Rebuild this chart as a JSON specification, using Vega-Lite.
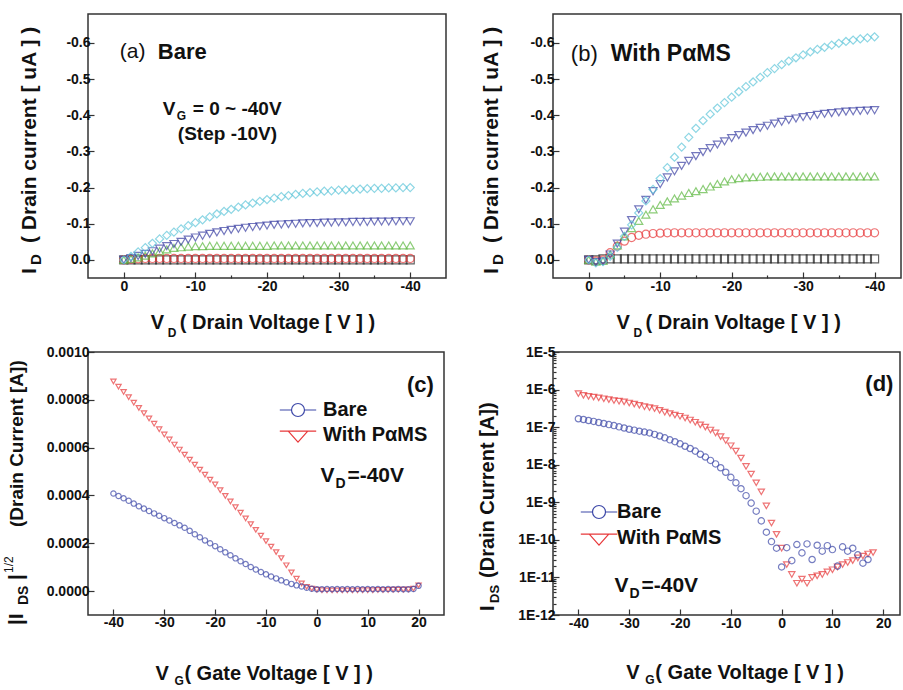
{
"$schema":"https://vega.github.io/schema/vega-lite/v6.json",
"padding":{"left":2,"top":13,"right":0,"bottom":0},
"bounds":"flush",
"columns":2,
"spacing":{"row":74,"column":107},
"resolve":{"scale":{"color":"independent","shape":"independent"},"legend":{"color":"independent","shape":"independent"}},
"config":{
 "view":{"stroke":"#333333","strokeWidth":1.5},
 "axis":{"domain":false,"grid":false,"tickColor":"#333333","tickWidth":1.2,"labelFont":"Liberation Sans","labelFontSize":14,"labelFontWeight":"bold","labelColor":"#111111","title":null,"labelOverlap":false,"labelFlush":false,"labelBound":false},
 "text":{"font":"Liberation Sans","fontSize":20,"fontWeight":"bold","align":"left","baseline":"alphabetic","color":"#111111"},
 "point":{"filled":false,"strokeWidth":1.2}
},
"datasets":{
"iv":[
{"p":"a","g":"0","v":0,"i":0},{"p":"a","g":"0","v":-1,"i":0},{"p":"a","g":"0","v":-2,"i":0},{"p":"a","g":"0","v":-3,"i":0},{"p":"a","g":"0","v":-4,"i":0},{"p":"a","g":"0","v":-5,"i":0},{"p":"a","g":"0","v":-6,"i":0},{"p":"a","g":"0","v":-7,"i":0},{"p":"a","g":"0","v":-8,"i":0},{"p":"a","g":"0","v":-9,"i":0},{"p":"a","g":"0","v":-10,"i":0},{"p":"a","g":"0","v":-11,"i":0},{"p":"a","g":"0","v":-12,"i":0},{"p":"a","g":"0","v":-13,"i":0},{"p":"a","g":"0","v":-14,"i":0},{"p":"a","g":"0","v":-15,"i":0},{"p":"a","g":"0","v":-16,"i":0},{"p":"a","g":"0","v":-17,"i":0},{"p":"a","g":"0","v":-18,"i":0},{"p":"a","g":"0","v":-19,"i":0},{"p":"a","g":"0","v":-20,"i":0},{"p":"a","g":"0","v":-21,"i":0},{"p":"a","g":"0","v":-22,"i":0},{"p":"a","g":"0","v":-23,"i":0},{"p":"a","g":"0","v":-24,"i":0},{"p":"a","g":"0","v":-25,"i":0},{"p":"a","g":"0","v":-26,"i":0},{"p":"a","g":"0","v":-27,"i":0},{"p":"a","g":"0","v":-28,"i":0},{"p":"a","g":"0","v":-29,"i":0},{"p":"a","g":"0","v":-30,"i":0},{"p":"a","g":"0","v":-31,"i":0},{"p":"a","g":"0","v":-32,"i":0},{"p":"a","g":"0","v":-33,"i":0},{"p":"a","g":"0","v":-34,"i":0},{"p":"a","g":"0","v":-35,"i":0},{"p":"a","g":"0","v":-36,"i":0},{"p":"a","g":"0","v":-37,"i":0},{"p":"a","g":"0","v":-38,"i":0},{"p":"a","g":"0","v":-39,"i":0},{"p":"a","g":"0","v":-40,"i":0},
{"p":"a","g":"-10","v":0,"i":0},{"p":"a","g":"-10","v":-1,"i":-0.002},{"p":"a","g":"-10","v":-2,"i":-0.003},{"p":"a","g":"-10","v":-3,"i":-0.004},{"p":"a","g":"-10","v":-4,"i":-0.004},{"p":"a","g":"-10","v":-5,"i":-0.004},{"p":"a","g":"-10","v":-6,"i":-0.004},{"p":"a","g":"-10","v":-7,"i":-0.004},{"p":"a","g":"-10","v":-8,"i":-0.004},{"p":"a","g":"-10","v":-9,"i":-0.004},{"p":"a","g":"-10","v":-10,"i":-0.004},{"p":"a","g":"-10","v":-11,"i":-0.004},{"p":"a","g":"-10","v":-12,"i":-0.004},{"p":"a","g":"-10","v":-13,"i":-0.004},{"p":"a","g":"-10","v":-14,"i":-0.004},{"p":"a","g":"-10","v":-15,"i":-0.004},{"p":"a","g":"-10","v":-16,"i":-0.004},{"p":"a","g":"-10","v":-17,"i":-0.004},{"p":"a","g":"-10","v":-18,"i":-0.004},{"p":"a","g":"-10","v":-19,"i":-0.004},{"p":"a","g":"-10","v":-20,"i":-0.004},{"p":"a","g":"-10","v":-21,"i":-0.004},{"p":"a","g":"-10","v":-22,"i":-0.004},{"p":"a","g":"-10","v":-23,"i":-0.004},{"p":"a","g":"-10","v":-24,"i":-0.004},{"p":"a","g":"-10","v":-25,"i":-0.004},{"p":"a","g":"-10","v":-26,"i":-0.004},{"p":"a","g":"-10","v":-27,"i":-0.004},{"p":"a","g":"-10","v":-28,"i":-0.004},{"p":"a","g":"-10","v":-29,"i":-0.004},{"p":"a","g":"-10","v":-30,"i":-0.004},{"p":"a","g":"-10","v":-31,"i":-0.004},{"p":"a","g":"-10","v":-32,"i":-0.004},{"p":"a","g":"-10","v":-33,"i":-0.004},{"p":"a","g":"-10","v":-34,"i":-0.004},{"p":"a","g":"-10","v":-35,"i":-0.004},{"p":"a","g":"-10","v":-36,"i":-0.004},{"p":"a","g":"-10","v":-37,"i":-0.004},{"p":"a","g":"-10","v":-38,"i":-0.004},{"p":"a","g":"-10","v":-39,"i":-0.004},{"p":"a","g":"-10","v":-40,"i":-0.004},
{"p":"a","g":"-20","v":0,"i":0},{"p":"a","g":"-20","v":-1,"i":-0.003},{"p":"a","g":"-20","v":-2,"i":-0.007},{"p":"a","g":"-20","v":-3,"i":-0.012},{"p":"a","g":"-20","v":-4,"i":-0.018},{"p":"a","g":"-20","v":-5,"i":-0.024},{"p":"a","g":"-20","v":-6,"i":-0.029},{"p":"a","g":"-20","v":-7,"i":-0.033},{"p":"a","g":"-20","v":-8,"i":-0.035},{"p":"a","g":"-20","v":-9,"i":-0.037},{"p":"a","g":"-20","v":-10,"i":-0.038},{"p":"a","g":"-20","v":-11,"i":-0.038},{"p":"a","g":"-20","v":-12,"i":-0.039},{"p":"a","g":"-20","v":-13,"i":-0.039},{"p":"a","g":"-20","v":-14,"i":-0.039},{"p":"a","g":"-20","v":-15,"i":-0.039},{"p":"a","g":"-20","v":-16,"i":-0.039},{"p":"a","g":"-20","v":-17,"i":-0.039},{"p":"a","g":"-20","v":-18,"i":-0.039},{"p":"a","g":"-20","v":-19,"i":-0.039},{"p":"a","g":"-20","v":-20,"i":-0.039},{"p":"a","g":"-20","v":-21,"i":-0.04},{"p":"a","g":"-20","v":-22,"i":-0.04},{"p":"a","g":"-20","v":-23,"i":-0.04},{"p":"a","g":"-20","v":-24,"i":-0.04},{"p":"a","g":"-20","v":-25,"i":-0.04},{"p":"a","g":"-20","v":-26,"i":-0.04},{"p":"a","g":"-20","v":-27,"i":-0.04},{"p":"a","g":"-20","v":-28,"i":-0.04},{"p":"a","g":"-20","v":-29,"i":-0.04},{"p":"a","g":"-20","v":-30,"i":-0.04},{"p":"a","g":"-20","v":-31,"i":-0.04},{"p":"a","g":"-20","v":-32,"i":-0.04},{"p":"a","g":"-20","v":-33,"i":-0.04},{"p":"a","g":"-20","v":-34,"i":-0.04},{"p":"a","g":"-20","v":-35,"i":-0.04},{"p":"a","g":"-20","v":-36,"i":-0.04},{"p":"a","g":"-20","v":-37,"i":-0.04},{"p":"a","g":"-20","v":-38,"i":-0.04},{"p":"a","g":"-20","v":-39,"i":-0.04},{"p":"a","g":"-20","v":-40,"i":-0.04},
{"p":"a","g":"-30","v":0,"i":0},{"p":"a","g":"-30","v":-1,"i":-0.005},{"p":"a","g":"-30","v":-2,"i":-0.011},{"p":"a","g":"-30","v":-3,"i":-0.017},{"p":"a","g":"-30","v":-4,"i":-0.024},{"p":"a","g":"-30","v":-5,"i":-0.031},{"p":"a","g":"-30","v":-6,"i":-0.038},{"p":"a","g":"-30","v":-7,"i":-0.044},{"p":"a","g":"-30","v":-8,"i":-0.05},{"p":"a","g":"-30","v":-9,"i":-0.056},{"p":"a","g":"-30","v":-10,"i":-0.062},{"p":"a","g":"-30","v":-11,"i":-0.067},{"p":"a","g":"-30","v":-12,"i":-0.072},{"p":"a","g":"-30","v":-13,"i":-0.076},{"p":"a","g":"-30","v":-14,"i":-0.08},{"p":"a","g":"-30","v":-15,"i":-0.083},{"p":"a","g":"-30","v":-16,"i":-0.086},{"p":"a","g":"-30","v":-17,"i":-0.089},{"p":"a","g":"-30","v":-18,"i":-0.091},{"p":"a","g":"-30","v":-19,"i":-0.093},{"p":"a","g":"-30","v":-20,"i":-0.095},{"p":"a","g":"-30","v":-21,"i":-0.097},{"p":"a","g":"-30","v":-22,"i":-0.098},{"p":"a","g":"-30","v":-23,"i":-0.099},{"p":"a","g":"-30","v":-24,"i":-0.1},{"p":"a","g":"-30","v":-25,"i":-0.101},{"p":"a","g":"-30","v":-26,"i":-0.102},{"p":"a","g":"-30","v":-27,"i":-0.102},{"p":"a","g":"-30","v":-28,"i":-0.103},{"p":"a","g":"-30","v":-29,"i":-0.103},{"p":"a","g":"-30","v":-30,"i":-0.104},{"p":"a","g":"-30","v":-31,"i":-0.104},{"p":"a","g":"-30","v":-32,"i":-0.105},{"p":"a","g":"-30","v":-33,"i":-0.105},{"p":"a","g":"-30","v":-34,"i":-0.105},{"p":"a","g":"-30","v":-35,"i":-0.106},{"p":"a","g":"-30","v":-36,"i":-0.106},{"p":"a","g":"-30","v":-37,"i":-0.106},{"p":"a","g":"-30","v":-38,"i":-0.107},{"p":"a","g":"-30","v":-39,"i":-0.107},{"p":"a","g":"-30","v":-40,"i":-0.107},
{"p":"a","g":"-40","v":0,"i":0},{"p":"a","g":"-40","v":-1,"i":-0.01},{"p":"a","g":"-40","v":-2,"i":-0.022},{"p":"a","g":"-40","v":-3,"i":-0.034},{"p":"a","g":"-40","v":-4,"i":-0.046},{"p":"a","g":"-40","v":-5,"i":-0.058},{"p":"a","g":"-40","v":-6,"i":-0.068},{"p":"a","g":"-40","v":-7,"i":-0.077},{"p":"a","g":"-40","v":-8,"i":-0.086},{"p":"a","g":"-40","v":-9,"i":-0.095},{"p":"a","g":"-40","v":-10,"i":-0.103},{"p":"a","g":"-40","v":-11,"i":-0.111},{"p":"a","g":"-40","v":-12,"i":-0.119},{"p":"a","g":"-40","v":-13,"i":-0.127},{"p":"a","g":"-40","v":-14,"i":-0.134},{"p":"a","g":"-40","v":-15,"i":-0.14},{"p":"a","g":"-40","v":-16,"i":-0.146},{"p":"a","g":"-40","v":-17,"i":-0.152},{"p":"a","g":"-40","v":-18,"i":-0.157},{"p":"a","g":"-40","v":-19,"i":-0.162},{"p":"a","g":"-40","v":-20,"i":-0.167},{"p":"a","g":"-40","v":-21,"i":-0.171},{"p":"a","g":"-40","v":-22,"i":-0.175},{"p":"a","g":"-40","v":-23,"i":-0.178},{"p":"a","g":"-40","v":-24,"i":-0.181},{"p":"a","g":"-40","v":-25,"i":-0.184},{"p":"a","g":"-40","v":-26,"i":-0.186},{"p":"a","g":"-40","v":-27,"i":-0.188},{"p":"a","g":"-40","v":-28,"i":-0.19},{"p":"a","g":"-40","v":-29,"i":-0.191},{"p":"a","g":"-40","v":-30,"i":-0.193},{"p":"a","g":"-40","v":-31,"i":-0.194},{"p":"a","g":"-40","v":-32,"i":-0.195},{"p":"a","g":"-40","v":-33,"i":-0.196},{"p":"a","g":"-40","v":-34,"i":-0.197},{"p":"a","g":"-40","v":-35,"i":-0.198},{"p":"a","g":"-40","v":-36,"i":-0.198},{"p":"a","g":"-40","v":-37,"i":-0.199},{"p":"a","g":"-40","v":-38,"i":-0.199},{"p":"a","g":"-40","v":-39,"i":-0.2},{"p":"a","g":"-40","v":-40,"i":-0.2},
{"p":"b","g":"0","v":0,"i":0},{"p":"b","g":"0","v":-1,"i":0},{"p":"b","g":"0","v":-2,"i":-0.003},{"p":"b","g":"0","v":-3,"i":-0.003},{"p":"b","g":"0","v":-4,"i":-0.003},{"p":"b","g":"0","v":-5,"i":-0.003},{"p":"b","g":"0","v":-6,"i":-0.003},{"p":"b","g":"0","v":-7,"i":-0.003},{"p":"b","g":"0","v":-8,"i":-0.003},{"p":"b","g":"0","v":-9,"i":-0.003},{"p":"b","g":"0","v":-10,"i":-0.003},{"p":"b","g":"0","v":-11,"i":-0.003},{"p":"b","g":"0","v":-12,"i":-0.003},{"p":"b","g":"0","v":-13,"i":-0.003},{"p":"b","g":"0","v":-14,"i":-0.003},{"p":"b","g":"0","v":-15,"i":-0.003},{"p":"b","g":"0","v":-16,"i":-0.003},{"p":"b","g":"0","v":-17,"i":-0.003},{"p":"b","g":"0","v":-18,"i":-0.003},{"p":"b","g":"0","v":-19,"i":-0.003},{"p":"b","g":"0","v":-20,"i":-0.003},{"p":"b","g":"0","v":-21,"i":-0.003},{"p":"b","g":"0","v":-22,"i":-0.003},{"p":"b","g":"0","v":-23,"i":-0.003},{"p":"b","g":"0","v":-24,"i":-0.003},{"p":"b","g":"0","v":-25,"i":-0.003},{"p":"b","g":"0","v":-26,"i":-0.003},{"p":"b","g":"0","v":-27,"i":-0.003},{"p":"b","g":"0","v":-28,"i":-0.003},{"p":"b","g":"0","v":-29,"i":-0.003},{"p":"b","g":"0","v":-30,"i":-0.003},{"p":"b","g":"0","v":-31,"i":-0.003},{"p":"b","g":"0","v":-32,"i":-0.003},{"p":"b","g":"0","v":-33,"i":-0.003},{"p":"b","g":"0","v":-34,"i":-0.003},{"p":"b","g":"0","v":-35,"i":-0.003},{"p":"b","g":"0","v":-36,"i":-0.003},{"p":"b","g":"0","v":-37,"i":-0.003},{"p":"b","g":"0","v":-38,"i":-0.003},{"p":"b","g":"0","v":-39,"i":-0.003},{"p":"b","g":"0","v":-40,"i":-0.003},
{"p":"b","g":"-10","v":0,"i":0},{"p":"b","g":"-10","v":-1,"i":0.003},{"p":"b","g":"-10","v":-2,"i":0},{"p":"b","g":"-10","v":-3,"i":-0.02},{"p":"b","g":"-10","v":-4,"i":-0.038},{"p":"b","g":"-10","v":-5,"i":-0.052},{"p":"b","g":"-10","v":-6,"i":-0.062},{"p":"b","g":"-10","v":-7,"i":-0.068},{"p":"b","g":"-10","v":-8,"i":-0.071},{"p":"b","g":"-10","v":-9,"i":-0.073},{"p":"b","g":"-10","v":-10,"i":-0.074},{"p":"b","g":"-10","v":-11,"i":-0.075},{"p":"b","g":"-10","v":-12,"i":-0.075},{"p":"b","g":"-10","v":-13,"i":-0.075},{"p":"b","g":"-10","v":-14,"i":-0.075},{"p":"b","g":"-10","v":-15,"i":-0.075},{"p":"b","g":"-10","v":-16,"i":-0.075},{"p":"b","g":"-10","v":-17,"i":-0.075},{"p":"b","g":"-10","v":-18,"i":-0.075},{"p":"b","g":"-10","v":-19,"i":-0.075},{"p":"b","g":"-10","v":-20,"i":-0.075},{"p":"b","g":"-10","v":-21,"i":-0.075},{"p":"b","g":"-10","v":-22,"i":-0.075},{"p":"b","g":"-10","v":-23,"i":-0.075},{"p":"b","g":"-10","v":-24,"i":-0.075},{"p":"b","g":"-10","v":-25,"i":-0.075},{"p":"b","g":"-10","v":-26,"i":-0.075},{"p":"b","g":"-10","v":-27,"i":-0.075},{"p":"b","g":"-10","v":-28,"i":-0.075},{"p":"b","g":"-10","v":-29,"i":-0.075},{"p":"b","g":"-10","v":-30,"i":-0.075},{"p":"b","g":"-10","v":-31,"i":-0.075},{"p":"b","g":"-10","v":-32,"i":-0.075},{"p":"b","g":"-10","v":-33,"i":-0.075},{"p":"b","g":"-10","v":-34,"i":-0.075},{"p":"b","g":"-10","v":-35,"i":-0.075},{"p":"b","g":"-10","v":-36,"i":-0.075},{"p":"b","g":"-10","v":-37,"i":-0.075},{"p":"b","g":"-10","v":-38,"i":-0.075},{"p":"b","g":"-10","v":-39,"i":-0.075},{"p":"b","g":"-10","v":-40,"i":-0.075},
{"p":"b","g":"-20","v":0,"i":0},{"p":"b","g":"-20","v":-1,"i":0.005},{"p":"b","g":"-20","v":-2,"i":0.003},{"p":"b","g":"-20","v":-3,"i":-0.015},{"p":"b","g":"-20","v":-4,"i":-0.04},{"p":"b","g":"-20","v":-5,"i":-0.065},{"p":"b","g":"-20","v":-6,"i":-0.088},{"p":"b","g":"-20","v":-7,"i":-0.108},{"p":"b","g":"-20","v":-8,"i":-0.125},{"p":"b","g":"-20","v":-9,"i":-0.14},{"p":"b","g":"-20","v":-10,"i":-0.152},{"p":"b","g":"-20","v":-11,"i":-0.162},{"p":"b","g":"-20","v":-12,"i":-0.17},{"p":"b","g":"-20","v":-13,"i":-0.178},{"p":"b","g":"-20","v":-14,"i":-0.185},{"p":"b","g":"-20","v":-15,"i":-0.19},{"p":"b","g":"-20","v":-16,"i":-0.196},{"p":"b","g":"-20","v":-17,"i":-0.203},{"p":"b","g":"-20","v":-18,"i":-0.21},{"p":"b","g":"-20","v":-19,"i":-0.217},{"p":"b","g":"-20","v":-20,"i":-0.223},{"p":"b","g":"-20","v":-21,"i":-0.226},{"p":"b","g":"-20","v":-22,"i":-0.228},{"p":"b","g":"-20","v":-23,"i":-0.229},{"p":"b","g":"-20","v":-24,"i":-0.23},{"p":"b","g":"-20","v":-25,"i":-0.231},{"p":"b","g":"-20","v":-26,"i":-0.231},{"p":"b","g":"-20","v":-27,"i":-0.231},{"p":"b","g":"-20","v":-28,"i":-0.231},{"p":"b","g":"-20","v":-29,"i":-0.231},{"p":"b","g":"-20","v":-30,"i":-0.231},{"p":"b","g":"-20","v":-31,"i":-0.231},{"p":"b","g":"-20","v":-32,"i":-0.231},{"p":"b","g":"-20","v":-33,"i":-0.231},{"p":"b","g":"-20","v":-34,"i":-0.231},{"p":"b","g":"-20","v":-35,"i":-0.231},{"p":"b","g":"-20","v":-36,"i":-0.231},{"p":"b","g":"-20","v":-37,"i":-0.231},{"p":"b","g":"-20","v":-38,"i":-0.231},{"p":"b","g":"-20","v":-39,"i":-0.231},{"p":"b","g":"-20","v":-40,"i":-0.231},
{"p":"b","g":"-30","v":0,"i":0},{"p":"b","g":"-30","v":-1,"i":0.006},{"p":"b","g":"-30","v":-2,"i":0.004},{"p":"b","g":"-30","v":-3,"i":-0.015},{"p":"b","g":"-30","v":-4,"i":-0.045},{"p":"b","g":"-30","v":-5,"i":-0.078},{"p":"b","g":"-30","v":-6,"i":-0.11},{"p":"b","g":"-30","v":-7,"i":-0.14},{"p":"b","g":"-30","v":-8,"i":-0.166},{"p":"b","g":"-30","v":-9,"i":-0.19},{"p":"b","g":"-30","v":-10,"i":-0.21},{"p":"b","g":"-30","v":-11,"i":-0.228},{"p":"b","g":"-30","v":-12,"i":-0.245},{"p":"b","g":"-30","v":-13,"i":-0.26},{"p":"b","g":"-30","v":-14,"i":-0.274},{"p":"b","g":"-30","v":-15,"i":-0.287},{"p":"b","g":"-30","v":-16,"i":-0.298},{"p":"b","g":"-30","v":-17,"i":-0.309},{"p":"b","g":"-30","v":-18,"i":-0.319},{"p":"b","g":"-30","v":-19,"i":-0.328},{"p":"b","g":"-30","v":-20,"i":-0.337},{"p":"b","g":"-30","v":-21,"i":-0.345},{"p":"b","g":"-30","v":-22,"i":-0.352},{"p":"b","g":"-30","v":-23,"i":-0.359},{"p":"b","g":"-30","v":-24,"i":-0.365},{"p":"b","g":"-30","v":-25,"i":-0.371},{"p":"b","g":"-30","v":-26,"i":-0.377},{"p":"b","g":"-30","v":-27,"i":-0.382},{"p":"b","g":"-30","v":-28,"i":-0.387},{"p":"b","g":"-30","v":-29,"i":-0.391},{"p":"b","g":"-30","v":-30,"i":-0.395},{"p":"b","g":"-30","v":-31,"i":-0.398},{"p":"b","g":"-30","v":-32,"i":-0.401},{"p":"b","g":"-30","v":-33,"i":-0.404},{"p":"b","g":"-30","v":-34,"i":-0.406},{"p":"b","g":"-30","v":-35,"i":-0.408},{"p":"b","g":"-30","v":-36,"i":-0.41},{"p":"b","g":"-30","v":-37,"i":-0.411},{"p":"b","g":"-30","v":-38,"i":-0.412},{"p":"b","g":"-30","v":-39,"i":-0.413},{"p":"b","g":"-30","v":-40,"i":-0.414},
{"p":"b","g":"-40","v":0,"i":0},{"p":"b","g":"-40","v":-1,"i":0.008},{"p":"b","g":"-40","v":-2,"i":0.005},{"p":"b","g":"-40","v":-3,"i":-0.01},{"p":"b","g":"-40","v":-4,"i":-0.035},{"p":"b","g":"-40","v":-5,"i":-0.065},{"p":"b","g":"-40","v":-6,"i":-0.097},{"p":"b","g":"-40","v":-7,"i":-0.13},{"p":"b","g":"-40","v":-8,"i":-0.163},{"p":"b","g":"-40","v":-9,"i":-0.195},{"p":"b","g":"-40","v":-10,"i":-0.225},{"p":"b","g":"-40","v":-11,"i":-0.255},{"p":"b","g":"-40","v":-12,"i":-0.284},{"p":"b","g":"-40","v":-13,"i":-0.312},{"p":"b","g":"-40","v":-14,"i":-0.339},{"p":"b","g":"-40","v":-15,"i":-0.364},{"p":"b","g":"-40","v":-16,"i":-0.385},{"p":"b","g":"-40","v":-17,"i":-0.403},{"p":"b","g":"-40","v":-18,"i":-0.42},{"p":"b","g":"-40","v":-19,"i":-0.435},{"p":"b","g":"-40","v":-20,"i":-0.45},{"p":"b","g":"-40","v":-21,"i":-0.465},{"p":"b","g":"-40","v":-22,"i":-0.479},{"p":"b","g":"-40","v":-23,"i":-0.492},{"p":"b","g":"-40","v":-24,"i":-0.505},{"p":"b","g":"-40","v":-25,"i":-0.518},{"p":"b","g":"-40","v":-26,"i":-0.529},{"p":"b","g":"-40","v":-27,"i":-0.54},{"p":"b","g":"-40","v":-28,"i":-0.55},{"p":"b","g":"-40","v":-29,"i":-0.559},{"p":"b","g":"-40","v":-30,"i":-0.567},{"p":"b","g":"-40","v":-31,"i":-0.575},{"p":"b","g":"-40","v":-32,"i":-0.582},{"p":"b","g":"-40","v":-33,"i":-0.588},{"p":"b","g":"-40","v":-34,"i":-0.594},{"p":"b","g":"-40","v":-35,"i":-0.599},{"p":"b","g":"-40","v":-36,"i":-0.604},{"p":"b","g":"-40","v":-37,"i":-0.608},{"p":"b","g":"-40","v":-38,"i":-0.611},{"p":"b","g":"-40","v":-39,"i":-0.614},{"p":"b","g":"-40","v":-40,"i":-0.617}
],
"tc":[
{"s":"With PαMS","vg":-40,"sq":0.000877},{"s":"With PαMS","vg":-39,"sq":0.000855},{"s":"With PαMS","vg":-38,"sq":0.000833},{"s":"With PαMS","vg":-37,"sq":0.000811},{"s":"With PαMS","vg":-36,"sq":0.000788},{"s":"With PαMS","vg":-35,"sq":0.000766},{"s":"With PαMS","vg":-34,"sq":0.000744},{"s":"With PαMS","vg":-33,"sq":0.000722},{"s":"With PαMS","vg":-32,"sq":0.0007},{"s":"With PαMS","vg":-31,"sq":0.000677},{"s":"With PαMS","vg":-30,"sq":0.000655},{"s":"With PαMS","vg":-29,"sq":0.000634},{"s":"With PαMS","vg":-28,"sq":0.000613},{"s":"With PαMS","vg":-27,"sq":0.000592},{"s":"With PαMS","vg":-26,"sq":0.000571},{"s":"With PαMS","vg":-25,"sq":0.00055},{"s":"With PαMS","vg":-24,"sq":0.000529},{"s":"With PαMS","vg":-23,"sq":0.000508},{"s":"With PαMS","vg":-22,"sq":0.000487},{"s":"With PαMS","vg":-21,"sq":0.000466},{"s":"With PαMS","vg":-20,"sq":0.000446},{"s":"With PαMS","vg":-19,"sq":0.000422},{"s":"With PαMS","vg":-18,"sq":0.000398},{"s":"With PαMS","vg":-17,"sq":0.000375},{"s":"With PαMS","vg":-16,"sq":0.000351},{"s":"With PαMS","vg":-15,"sq":0.000328},{"s":"With PαMS","vg":-14,"sq":0.000304},{"s":"With PαMS","vg":-13,"sq":0.00028},{"s":"With PαMS","vg":-12,"sq":0.000256},{"s":"With PαMS","vg":-11,"sq":0.000232},{"s":"With PαMS","vg":-10,"sq":0.000209},{"s":"With PαMS","vg":-9,"sq":0.000186},{"s":"With PαMS","vg":-8,"sq":0.000163},{"s":"With PαMS","vg":-7,"sq":0.000138},{"s":"With PαMS","vg":-6,"sq":0.000108},{"s":"With PαMS","vg":-5,"sq":0.000078},{"s":"With PαMS","vg":-4,"sq":0.000052},{"s":"With PαMS","vg":-3,"sq":0.000032},{"s":"With PαMS","vg":-2,"sq":0.000018},{"s":"With PαMS","vg":-1,"sq":0.00001},{"s":"With PαMS","vg":0,"sq":0.000006},{"s":"With PαMS","vg":1,"sq":0.000004},{"s":"With PαMS","vg":2,"sq":0.000003},{"s":"With PαMS","vg":3,"sq":0.000003},{"s":"With PαMS","vg":4,"sq":0.000003},{"s":"With PαMS","vg":5,"sq":0.000003},{"s":"With PαMS","vg":6,"sq":0.000003},{"s":"With PαMS","vg":7,"sq":0.000003},{"s":"With PαMS","vg":8,"sq":0.000003},{"s":"With PαMS","vg":9,"sq":0.000004},{"s":"With PαMS","vg":10,"sq":0.000004},{"s":"With PαMS","vg":11,"sq":0.000004},{"s":"With PαMS","vg":12,"sq":0.000005},{"s":"With PαMS","vg":13,"sq":0.000005},{"s":"With PαMS","vg":14,"sq":0.000005},{"s":"With PαMS","vg":15,"sq":0.000006},{"s":"With PαMS","vg":16,"sq":0.000006},{"s":"With PαMS","vg":17,"sq":0.000006},{"s":"With PαMS","vg":18,"sq":0.000007},{"s":"With PαMS","vg":19,"sq":0.00001},{"s":"With PαMS","vg":20,"sq":0.000024},
{"s":"Bare","vg":-40,"sq":0.000408},{"s":"Bare","vg":-39,"sq":0.000398},{"s":"Bare","vg":-38,"sq":0.000388},{"s":"Bare","vg":-37,"sq":0.000378},{"s":"Bare","vg":-36,"sq":0.000366},{"s":"Bare","vg":-35,"sq":0.000355},{"s":"Bare","vg":-34,"sq":0.000345},{"s":"Bare","vg":-33,"sq":0.000335},{"s":"Bare","vg":-32,"sq":0.000325},{"s":"Bare","vg":-31,"sq":0.000315},{"s":"Bare","vg":-30,"sq":0.000305},{"s":"Bare","vg":-29,"sq":0.000295},{"s":"Bare","vg":-28,"sq":0.000285},{"s":"Bare","vg":-27,"sq":0.000275},{"s":"Bare","vg":-26,"sq":0.000265},{"s":"Bare","vg":-25,"sq":0.000252},{"s":"Bare","vg":-24,"sq":0.000238},{"s":"Bare","vg":-23,"sq":0.000225},{"s":"Bare","vg":-22,"sq":0.000212},{"s":"Bare","vg":-21,"sq":0.0002},{"s":"Bare","vg":-20,"sq":0.000188},{"s":"Bare","vg":-19,"sq":0.000175},{"s":"Bare","vg":-18,"sq":0.000162},{"s":"Bare","vg":-17,"sq":0.00015},{"s":"Bare","vg":-16,"sq":0.000137},{"s":"Bare","vg":-15,"sq":0.000125},{"s":"Bare","vg":-14,"sq":0.000113},{"s":"Bare","vg":-13,"sq":0.000101},{"s":"Bare","vg":-12,"sq":0.00009},{"s":"Bare","vg":-11,"sq":0.00008},{"s":"Bare","vg":-10,"sq":0.00007},{"s":"Bare","vg":-9,"sq":0.000061},{"s":"Bare","vg":-8,"sq":0.000053},{"s":"Bare","vg":-7,"sq":0.000045},{"s":"Bare","vg":-6,"sq":0.000037},{"s":"Bare","vg":-5,"sq":0.00003},{"s":"Bare","vg":-4,"sq":0.000024},{"s":"Bare","vg":-3,"sq":0.000019},{"s":"Bare","vg":-2,"sq":0.000014},{"s":"Bare","vg":-1,"sq":0.00001},{"s":"Bare","vg":0,"sq":0.000008},{"s":"Bare","vg":1,"sq":0.000008},{"s":"Bare","vg":2,"sq":0.000009},{"s":"Bare","vg":3,"sq":0.000008},{"s":"Bare","vg":4,"sq":0.000009},{"s":"Bare","vg":5,"sq":0.000008},{"s":"Bare","vg":6,"sq":0.000009},{"s":"Bare","vg":7,"sq":0.000008},{"s":"Bare","vg":8,"sq":0.000009},{"s":"Bare","vg":9,"sq":0.000008},{"s":"Bare","vg":10,"sq":0.000009},{"s":"Bare","vg":11,"sq":0.000008},{"s":"Bare","vg":12,"sq":0.000009},{"s":"Bare","vg":13,"sq":0.000008},{"s":"Bare","vg":14,"sq":0.000009},{"s":"Bare","vg":15,"sq":0.000008},{"s":"Bare","vg":16,"sq":0.000009},{"s":"Bare","vg":17,"sq":0.000008},{"s":"Bare","vg":18,"sq":0.000008},{"s":"Bare","vg":19,"sq":0.000009},{"s":"Bare","vg":20,"sq":0.000022}
],
"td":[
{"s":"With PαMS","vg":-40,"ids":7.8e-7},{"s":"With PαMS","vg":-39,"ids":7.0e-7},{"s":"With PαMS","vg":-38,"ids":6.6e-7},{"s":"With PαMS","vg":-37,"ids":6.3e-7},{"s":"With PαMS","vg":-36,"ids":6.0e-7},{"s":"With PαMS","vg":-35,"ids":5.7e-7},{"s":"With PαMS","vg":-34,"ids":5.4e-7},{"s":"With PαMS","vg":-33,"ids":5.1e-7},{"s":"With PαMS","vg":-32,"ids":4.9e-7},{"s":"With PαMS","vg":-31,"ids":4.7e-7},{"s":"With PαMS","vg":-30,"ids":4.4e-7},{"s":"With PαMS","vg":-29,"ids":4.1e-7},{"s":"With PαMS","vg":-28,"ids":3.8e-7},{"s":"With PαMS","vg":-27,"ids":3.5e-7},{"s":"With PαMS","vg":-26,"ids":3.3e-7},{"s":"With PαMS","vg":-25,"ids":3.1e-7},{"s":"With PαMS","vg":-24,"ids":2.8e-7},{"s":"With PαMS","vg":-23,"ids":2.5e-7},{"s":"With PαMS","vg":-22,"ids":2.3e-7},{"s":"With PαMS","vg":-21,"ids":2.1e-7},{"s":"With PαMS","vg":-20,"ids":1.95e-7},{"s":"With PαMS","vg":-19,"ids":1.75e-7},{"s":"With PαMS","vg":-18,"ids":1.55e-7},{"s":"With PαMS","vg":-17,"ids":1.35e-7},{"s":"With PαMS","vg":-16,"ids":1.15e-7},{"s":"With PαMS","vg":-15,"ids":1.0e-7},{"s":"With PαMS","vg":-14,"ids":8.4e-8},{"s":"With PαMS","vg":-13,"ids":7.0e-8},{"s":"With PαMS","vg":-12,"ids":5.6e-8},{"s":"With PαMS","vg":-11,"ids":4.4e-8},{"s":"With PαMS","vg":-10,"ids":3.2e-8},{"s":"With PαMS","vg":-9,"ids":2.3e-8},{"s":"With PαMS","vg":-8,"ids":1.5e-8},{"s":"With PαMS","vg":-7,"ids":9.0e-9},{"s":"With PαMS","vg":-6,"ids":5.6e-9},{"s":"With PαMS","vg":-5,"ids":3.3e-9},{"s":"With PαMS","vg":-4,"ids":1.9e-9},{"s":"With PαMS","vg":-3,"ids":8.0e-10},{"s":"With PαMS","vg":-2,"ids":2.8e-10},{"s":"With PαMS","vg":-1,"ids":1.4e-10},{"s":"With PαMS","vg":0,"ids":6.0e-11},{"s":"With PαMS","vg":1,"ids":2.2e-11},{"s":"With PαMS","vg":2,"ids":1.2e-11},{"s":"With PαMS","vg":3,"ids":7.0e-12},{"s":"With PαMS","vg":4,"ids":9.0e-12},{"s":"With PαMS","vg":5,"ids":7.0e-12},{"s":"With PαMS","vg":6,"ids":1.0e-11},{"s":"With PαMS","vg":7,"ids":1.1e-11},{"s":"With PαMS","vg":8,"ids":1.2e-11},{"s":"With PαMS","vg":9,"ids":1.4e-11},{"s":"With PαMS","vg":10,"ids":1.6e-11},{"s":"With PαMS","vg":11,"ids":1.9e-11},{"s":"With PαMS","vg":12,"ids":2.2e-11},{"s":"With PαMS","vg":13,"ids":2.5e-11},{"s":"With PαMS","vg":14,"ids":2.8e-11},{"s":"With PαMS","vg":15,"ids":3.3e-11},{"s":"With PαMS","vg":16,"ids":3.7e-11},{"s":"With PαMS","vg":17,"ids":4.2e-11},{"s":"With PαMS","vg":18,"ids":4.6e-11},
{"s":"Bare","vg":-40,"ids":1.67e-7},{"s":"Bare","vg":-39,"ids":1.6e-7},{"s":"Bare","vg":-38,"ids":1.5e-7},{"s":"Bare","vg":-37,"ids":1.42e-7},{"s":"Bare","vg":-36,"ids":1.33e-7},{"s":"Bare","vg":-35,"ids":1.25e-7},{"s":"Bare","vg":-34,"ids":1.17e-7},{"s":"Bare","vg":-33,"ids":1.1e-7},{"s":"Bare","vg":-32,"ids":1.02e-7},{"s":"Bare","vg":-31,"ids":9.5e-8},{"s":"Bare","vg":-30,"ids":8.8e-8},{"s":"Bare","vg":-29,"ids":8.3e-8},{"s":"Bare","vg":-28,"ids":7.8e-8},{"s":"Bare","vg":-27,"ids":7.4e-8},{"s":"Bare","vg":-26,"ids":7.0e-8},{"s":"Bare","vg":-25,"ids":6.4e-8},{"s":"Bare","vg":-24,"ids":5.8e-8},{"s":"Bare","vg":-23,"ids":5.2e-8},{"s":"Bare","vg":-22,"ids":4.6e-8},{"s":"Bare","vg":-21,"ids":4.1e-8},{"s":"Bare","vg":-20,"ids":3.6e-8},{"s":"Bare","vg":-19,"ids":3.1e-8},{"s":"Bare","vg":-18,"ids":2.7e-8},{"s":"Bare","vg":-17,"ids":2.3e-8},{"s":"Bare","vg":-16,"ids":1.9e-8},{"s":"Bare","vg":-15,"ids":1.6e-8},{"s":"Bare","vg":-14,"ids":1.3e-8},{"s":"Bare","vg":-13,"ids":1.05e-8},{"s":"Bare","vg":-12,"ids":8.3e-9},{"s":"Bare","vg":-11,"ids":6.3e-9},{"s":"Bare","vg":-10,"ids":4.6e-9},{"s":"Bare","vg":-9,"ids":3.3e-9},{"s":"Bare","vg":-8,"ids":2.3e-9},{"s":"Bare","vg":-7,"ids":1.5e-9},{"s":"Bare","vg":-6,"ids":9.5e-10},{"s":"Bare","vg":-5,"ids":5.8e-10},{"s":"Bare","vg":-4,"ids":3.2e-10},{"s":"Bare","vg":-3,"ids":1.6e-10},{"s":"Bare","vg":-2,"ids":9.0e-11},{"s":"Bare","vg":-1,"ids":6.0e-11},{"s":"Bare","vg":0,"ids":1.9e-11},{"s":"Bare","vg":1,"ids":6.2e-11},{"s":"Bare","vg":2,"ids":2.8e-11},{"s":"Bare","vg":3,"ids":7.5e-11},{"s":"Bare","vg":4,"ids":4.5e-11},{"s":"Bare","vg":5,"ids":7.8e-11},{"s":"Bare","vg":6,"ids":3.0e-11},{"s":"Bare","vg":7,"ids":7.2e-11},{"s":"Bare","vg":8,"ids":5.0e-11},{"s":"Bare","vg":9,"ids":7.0e-11},{"s":"Bare","vg":10,"ids":5.5e-11},{"s":"Bare","vg":11,"ids":2.0e-11},{"s":"Bare","vg":12,"ids":6.5e-11},{"s":"Bare","vg":13,"ids":5.0e-11},{"s":"Bare","vg":14,"ids":6.0e-11},{"s":"Bare","vg":15,"ids":4.0e-11},{"s":"Bare","vg":16,"ids":2.4e-11},{"s":"Bare","vg":17,"ids":3.0e-11}
]
},
"concat":[
 {"width":358,"height":264,"layer":[
  {"data":{"name":"iv"},"transform":[{"filter":"datum.p === 'a'"}],"mark":{"type":"point","size":65},
   "encoding":{
    "x":{"field":"v","type":"quantitative","scale":{"domain":[-45,5],"reverse":true,"nice":false,"zero":false},"axis":{"values":[0,-5,-10,-15,-20,-25,-30,-35,-40],"labelExpr":"datum.value % 10 === 0 ? '' + datum.value : ''","tickSize":{"condition":{"test":"datum.value % 10 === 0","value":-6},"value":-3},"labelPadding":7,"labelOverlap":false,"labelFlush":false}},
    "y":{"field":"i","type":"quantitative","scale":{"domain":[-0.68,0.05],"reverse":true,"nice":false,"zero":false},"axis":{"values":[0,-0.05,-0.1,-0.15,-0.2,-0.25,-0.3,-0.35,-0.4,-0.45,-0.5,-0.55,-0.6],"labelExpr":"round(datum.value*20) % 2 === 0 ? replace(format(datum.value, '.1f'), '\u2212', '-') : ''","tickSize":{"condition":{"test":"round(datum.value*20) % 2 === 0","value":-6},"value":-3},"labelPadding":4,"labelOverlap":false,"labelFlush":false}},
    "color":{"field":"g","type":"nominal","scale":{"domain":["0","-10","-20","-30","-40"],"range":["#222222","#e8383a","#5cb83f","#3a3fa3","#5ec6da"]},"legend":null},
    "shape":{"field":"g","type":"nominal","scale":{"domain":["0","-10","-20","-30","-40"],"range":["square","circle","triangle-up","triangle-down","diamond"]},"legend":null}}},
  {"data":{"values":[{}]},"mark":{"type":"text","text":"(a)","fontWeight":"normal","fontSize":21,"baseline":"middle"},"encoding":{"x":{"datum":0.56},"y":{"datum":-0.575}}},
  {"data":{"values":[{}]},"mark":{"type":"text","text":"Bare","fontSize":22,"baseline":"middle","dx":38},"encoding":{"x":{"datum":0.56},"y":{"datum":-0.575}}},
  {"data":{"values":[{}]},"mark":{"type":"text","text":"V","fontSize":19},"encoding":{"x":{"datum":-5.45},"y":{"datum":-0.401}}},
  {"data":{"values":[{}]},"mark":{"type":"text","text":"G","fontSize":12,"dx":14,"dy":5},"encoding":{"x":{"datum":-5.45},"y":{"datum":-0.401}}},
  {"data":{"values":[{}]},"mark":{"type":"text","text":"=  0  ~  -40V","fontSize":19,"dx":30},"encoding":{"x":{"datum":-5.45},"y":{"datum":-0.401}}},
  {"data":{"values":[{}]},"mark":{"type":"text","text":"(Step -10V)","fontSize":19},"encoding":{"x":{"datum":-7.55},"y":{"datum":-0.332}}},
  {"data":{"values":[{}]},"mark":{"type":"text","text":"V","fontSize":20},"encoding":{"x":{"datum":-3.78},"y":{"datum":0.191}}},
  {"data":{"values":[{}]},"mark":{"type":"text","text":"D","fontSize":12,"dx":17,"dy":8},"encoding":{"x":{"datum":-3.78},"y":{"datum":0.191}}},
  {"data":{"values":[{}]},"mark":{"type":"text","text":"( Drain Voltage [ V ] )","fontSize":20,"dx":29},"encoding":{"x":{"datum":-3.78},"y":{"datum":0.191}}},
  {"data":{"values":[{}]},"mark":{"type":"text","text":"I","fontSize":21,"angle":270},"encoding":{"x":{"datum":12.3},"y":{"datum":0.039}}},
  {"data":{"values":[{}]},"mark":{"type":"text","text":"D","fontSize":15,"angle":270,"dx":9,"dy":5},"encoding":{"x":{"datum":12.3},"y":{"datum":0.039}}},
  {"data":{"values":[{}]},"mark":{"type":"text","text":"( Drain current [ uA ] )","fontSize":21,"angle":270,"dx":31},"encoding":{"x":{"datum":12.3},"y":{"datum":0.039}}}
 ]},
 {"width":348,"height":264,"layer":[
  {"data":{"name":"iv"},"transform":[{"filter":"datum.p === 'b'"}],"mark":{"type":"point","size":65},
   "encoding":{
    "x":{"field":"v","type":"quantitative","scale":{"domain":[-43.7,5],"reverse":true,"nice":false,"zero":false},"axis":{"values":[0,-5,-10,-15,-20,-25,-30,-35,-40],"labelExpr":"datum.value % 10 === 0 ? '' + datum.value : ''","tickSize":{"condition":{"test":"datum.value % 10 === 0","value":-6},"value":-3},"labelPadding":7,"labelOverlap":false,"labelFlush":false}},
    "y":{"field":"i","type":"quantitative","scale":{"domain":[-0.68,0.05],"reverse":true,"nice":false,"zero":false},"axis":{"values":[0,-0.05,-0.1,-0.15,-0.2,-0.25,-0.3,-0.35,-0.4,-0.45,-0.5,-0.55,-0.6],"labelExpr":"round(datum.value*20) % 2 === 0 ? replace(format(datum.value, '.1f'), '\u2212', '-') : ''","tickSize":{"condition":{"test":"round(datum.value*20) % 2 === 0","value":-6},"value":-3},"labelPadding":5,"labelOverlap":false,"labelFlush":false}},
    "color":{"field":"g","type":"nominal","scale":{"domain":["0","-10","-20","-30","-40"],"range":["#222222","#e8383a","#5cb83f","#3a3fa3","#5ec6da"]},"legend":null},
    "shape":{"field":"g","type":"nominal","scale":{"domain":["0","-10","-20","-30","-40"],"range":["square","circle","triangle-up","triangle-down","diamond"]},"legend":null}}},
  {"data":{"values":[{}]},"mark":{"type":"text","text":"(b)","fontWeight":"normal","fontSize":22,"baseline":"middle"},"encoding":{"x":{"datum":2.5},"y":{"datum":-0.57}}},
  {"data":{"values":[{}]},"mark":{"type":"text","text":"With PαMS","fontSize":23,"baseline":"middle","dx":40},"encoding":{"x":{"datum":2.5},"y":{"datum":-0.57}}},
  {"data":{"values":[{}]},"mark":{"type":"text","text":"V","fontSize":20},"encoding":{"x":{"datum":-3.9},"y":{"datum":0.191}}},
  {"data":{"values":[{}]},"mark":{"type":"text","text":"D","fontSize":12,"dx":17,"dy":8},"encoding":{"x":{"datum":-3.9},"y":{"datum":0.191}}},
  {"data":{"values":[{}]},"mark":{"type":"text","text":"( Drain Voltage [ V ] )","fontSize":20,"dx":29},"encoding":{"x":{"datum":-3.9},"y":{"datum":0.191}}},
  {"data":{"values":[{}]},"mark":{"type":"text","text":"I","fontSize":21,"angle":270},"encoding":{"x":{"datum":12.7},"y":{"datum":0.039}}},
  {"data":{"values":[{}]},"mark":{"type":"text","text":"D","fontSize":15,"angle":270,"dx":9,"dy":5},"encoding":{"x":{"datum":12.7},"y":{"datum":0.039}}},
  {"data":{"values":[{}]},"mark":{"type":"text","text":"( Drain current [ uA ] )","fontSize":21,"angle":270,"dx":31},"encoding":{"x":{"datum":12.7},"y":{"datum":0.039}}}
 ]},
 {"width":356,"height":263,"layer":[
  {"data":{"name":"tc"},"transform":[{"filter":"datum.s === 'With PαMS'"}],"mark":{"type":"point","shape":"triangle-down","color":"#e8383a","size":28},
   "encoding":{
    "x":{"field":"vg","type":"quantitative","scale":{"domain":[-45,25],"nice":false,"zero":false},"axis":{"values":[-40,-35,-30,-25,-20,-15,-10,-5,0,5,10,15,20,25],"labelExpr":"datum.value % 10 === 0 ? '' + datum.value : ''","tickSize":{"condition":{"test":"datum.value % 10 === 0","value":-6},"value":-3},"labelPadding":6,"labelOverlap":false,"labelFlush":false}},
    "y":{"field":"sq","type":"quantitative","scale":{"domain":[-0.0001,0.001],"nice":false,"zero":false},"axis":{"values":[0,0.0001,0.0002,0.0003,0.0004,0.0005,0.0006,0.0007,0.0008,0.0009,0.001],"labelExpr":"round(datum.value*10000) % 2 === 0 ? format(datum.value, '.4f') : ''","tickSize":{"condition":{"test":"round(datum.value*10000) % 2 === 0","value":-6},"value":-3},"labelPadding":5,"labelOverlap":false,"labelFlush":false}}}},
  {"data":{"name":"tc"},"transform":[{"filter":"datum.s === 'Bare'"}],"mark":{"type":"point","shape":"circle","color":"#3d48a8","size":28},
   "encoding":{"x":{"field":"vg","type":"quantitative"},"y":{"field":"sq","type":"quantitative"}}},
  {"data":{"values":[{"s":"Bare"},{"s":"With PαMS"}]},"mark":{"type":"point","opacity":0},
   "encoding":{
    "color":{"field":"s","type":"nominal","scale":{"domain":["Bare","With PαMS"],"range":["#3d48a8","#e8383a"]},"legend":{"title":null,"orient":"none","legendX":200,"legendY":48,"labelFont":"Liberation Sans","labelFontSize":20,"labelFontWeight":"bold","labelColor":"#111111","symbolSize":169,"symbolStrokeWidth":1.5,"symbolOpacity":1,"labelOffset":15,"rowPadding":5,"padding":0,"symbolOffset":0,"labelLimit":300}},
    "shape":{"field":"s","type":"nominal","scale":{"domain":["Bare","With PαMS"],"range":["M-2.8,0H-1A1,1 0 1,1 1,0A1,1 0 1,1 -1,0M1,0H2.8","M-2.8,-0.6H2.8M-1.5,-0.6L0,1.1L1.5,-0.6"]},"legend":{"title":null,"orient":"none","legendX":200,"legendY":48,"labelFont":"Liberation Sans","labelFontSize":20,"labelFontWeight":"bold","labelColor":"#111111","symbolSize":169,"symbolStrokeWidth":1.5,"symbolOpacity":1,"labelOffset":15,"rowPadding":5,"padding":0,"symbolOffset":0,"labelLimit":300}}}},
  {"data":{"values":[{}]},"mark":{"type":"text","text":"(c)","fontSize":22,"align":"right","baseline":"middle"},"encoding":{"x":{"datum":23},"y":{"datum":0.00086}}},
  {"data":{"values":[{}]},"mark":{"type":"text","text":"V","fontSize":21},"encoding":{"x":{"datum":0.7},"y":{"datum":0.000456}}},
  {"data":{"values":[{}]},"mark":{"type":"text","text":"D","fontSize":14,"dx":15,"dy":6},"encoding":{"x":{"datum":0.7},"y":{"datum":0.000456}}},
  {"data":{"values":[{}]},"mark":{"type":"text","text":"=-40V","fontSize":21,"dx":27},"encoding":{"x":{"datum":0.7},"y":{"datum":0.000456}}},
  {"data":{"values":[{}]},"mark":{"type":"text","text":"V","fontSize":20},"encoding":{"x":{"datum":-31.75},"y":{"datum":-0.00037}}},
  {"data":{"values":[{}]},"mark":{"type":"text","text":"G","fontSize":12,"dx":19,"dy":5},"encoding":{"x":{"datum":-31.75},"y":{"datum":-0.00037}}},
  {"data":{"values":[{}]},"mark":{"type":"text","text":"( Gate Voltage [ V ] )","fontSize":20,"dx":29},"encoding":{"x":{"datum":-31.75},"y":{"datum":-0.00037}}},
  {"data":{"values":[{}]},"mark":{"type":"text","text":"|I","fontSize":21,"angle":270},"encoding":{"x":{"datum":-57.7},"y":{"datum":-0.000142}}},
  {"data":{"values":[{}]},"mark":{"type":"text","text":"DS","fontSize":14,"angle":270,"dx":20,"dy":5},"encoding":{"x":{"datum":-57.7},"y":{"datum":-0.000142}}},
  {"data":{"values":[{}]},"mark":{"type":"text","text":"|","fontSize":21,"angle":270,"dx":45},"encoding":{"x":{"datum":-57.7},"y":{"datum":-0.000142}}},
  {"data":{"values":[{}]},"mark":{"type":"text","text":"1/2","fontSize":12,"fontWeight":"normal","angle":270,"dx":52,"dy":-10},"encoding":{"x":{"datum":-57.7},"y":{"datum":-0.000142}}},
  {"data":{"values":[{}]},"mark":{"type":"text","text":"(Drain Current [A])","fontSize":19,"angle":270,"dx":98},"encoding":{"x":{"datum":-57.7},"y":{"datum":-0.000142}}}
 ]},
 {"width":347,"height":263,"layer":[
  {"data":{"name":"td"},"transform":[{"filter":"datum.s === 'With PαMS'"}],"mark":{"type":"point","shape":"triangle-down","color":"#e8383a","size":40},
   "encoding":{
    "x":{"field":"vg","type":"quantitative","scale":{"domain":[-45,23.3],"nice":false,"zero":false},"axis":{"values":[-40,-35,-30,-25,-20,-15,-10,-5,0,5,10,15,20],"labelExpr":"datum.value % 10 === 0 ? '' + datum.value : ''","tickSize":{"condition":{"test":"datum.value % 10 === 0","value":-6},"value":-3},"labelPadding":7,"labelOverlap":false,"labelFlush":false}},
    "y":{"field":"ids","type":"quantitative","scale":{"type":"log","domain":[1e-12,1e-5],"nice":false},"axis":{"values":[1e-12,2e-12,3e-12,4e-12,5e-12,6e-12,7e-12,8e-12,9e-12,1e-11,2e-11,3e-11,4e-11,5e-11,6e-11,7e-11,8e-11,9e-11,1e-10,2e-10,3e-10,4e-10,5e-10,6e-10,7e-10,8e-10,9e-10,1e-9,2e-9,3e-9,4e-9,5e-9,6e-9,7e-9,8e-9,9e-9,1e-8,2e-8,3e-8,4e-8,5e-8,6e-8,7e-8,8e-8,9e-8,1e-7,2e-7,3e-7,4e-7,5e-7,6e-7,7e-7,8e-7,9e-7,1e-6,2e-6,3e-6,4e-6,5e-6,6e-6,7e-6,8e-6,9e-6,1e-5],"labelExpr":"abs(log(datum.value)/LN10 - round(log(datum.value)/LN10)) < 0.0001 ? '1E' + round(log(datum.value)/LN10) : ''","tickSize":{"condition":{"test":"abs(log(datum.value)/LN10 - round(log(datum.value)/LN10)) < 0.0001","value":-6},"value":-3},"labelPadding":4,"labelOverlap":false,"labelFlush":false}}}},
  {"data":{"name":"td"},"transform":[{"filter":"datum.s === 'Bare'"}],"mark":{"type":"point","shape":"circle","color":"#3d48a8","size":40},
   "encoding":{"x":{"field":"vg","type":"quantitative"},"y":{"field":"ids","type":"quantitative"}}},
  {"data":{"values":[{"s":"Bare"},{"s":"With PαMS"}]},"mark":{"type":"point","opacity":0},
   "encoding":{
    "color":{"field":"s","type":"nominal","scale":{"domain":["Bare","With PαMS"],"range":["#3d48a8","#e8383a"]},"legend":{"title":null,"orient":"none","legendX":36,"legendY":150,"labelFont":"Liberation Sans","labelFontSize":20,"labelFontWeight":"bold","labelColor":"#111111","symbolSize":169,"symbolStrokeWidth":1.5,"symbolOpacity":1,"labelOffset":8,"rowPadding":6,"padding":0,"symbolOffset":0,"labelLimit":300}},
    "shape":{"field":"s","type":"nominal","scale":{"domain":["Bare","With PαMS"],"range":["M-2.8,0H-1A1,1 0 1,1 1,0A1,1 0 1,1 -1,0M1,0H2.8","M-2.8,-0.6H2.8M-1.5,-0.6L0,1.1L1.5,-0.6"]},"legend":{"title":null,"orient":"none","legendX":36,"legendY":150,"labelFont":"Liberation Sans","labelFontSize":20,"labelFontWeight":"bold","labelColor":"#111111","symbolSize":169,"symbolStrokeWidth":1.5,"symbolOpacity":1,"labelOffset":8,"rowPadding":6,"padding":0,"symbolOffset":0,"labelLimit":300}}}},
  {"data":{"values":[{}]},"mark":{"type":"text","text":"(d)","fontSize":22,"align":"right","baseline":"middle"},"encoding":{"x":{"datum":22},"y":{"datum":1.45e-6}}},
  {"data":{"values":[{}]},"mark":{"type":"text","text":"V","fontSize":21},"encoding":{"x":{"datum":-32.9},"y":{"datum":4.0e-12}}},
  {"data":{"values":[{}]},"mark":{"type":"text","text":"D","fontSize":14,"dx":15,"dy":6},"encoding":{"x":{"datum":-32.9},"y":{"datum":4.0e-12}}},
  {"data":{"values":[{}]},"mark":{"type":"text","text":"=-40V","fontSize":21,"dx":27},"encoding":{"x":{"datum":-32.9},"y":{"datum":4.0e-12}}},
  {"data":{"values":[{}]},"mark":{"type":"text","text":"V","fontSize":20},"encoding":{"x":{"datum":-30.56},"y":{"datum":2e-14}}},
  {"data":{"values":[{}]},"mark":{"type":"text","text":"G","fontSize":12,"dx":19,"dy":5},"encoding":{"x":{"datum":-30.56},"y":{"datum":2e-14}}},
  {"data":{"values":[{}]},"mark":{"type":"text","text":"( Gate Voltage [ V ] )","fontSize":20,"dx":29},"encoding":{"x":{"datum":-30.56},"y":{"datum":2e-14}}},
  {"data":{"values":[{}]},"mark":{"type":"text","text":"I","fontSize":20,"angle":270},"encoding":{"x":{"datum":-56.7},"y":{"datum":1.28e-12}}},
  {"data":{"values":[{}]},"mark":{"type":"text","text":"DS","fontSize":13,"angle":270,"dx":8,"dy":5},"encoding":{"x":{"datum":-56.7},"y":{"datum":1.28e-12}}},
  {"data":{"values":[{}]},"mark":{"type":"text","text":"(Drain Current [A])","fontSize":20,"angle":270,"dx":33},"encoding":{"x":{"datum":-56.7},"y":{"datum":1.28e-12}}}
 ]}
]
}
